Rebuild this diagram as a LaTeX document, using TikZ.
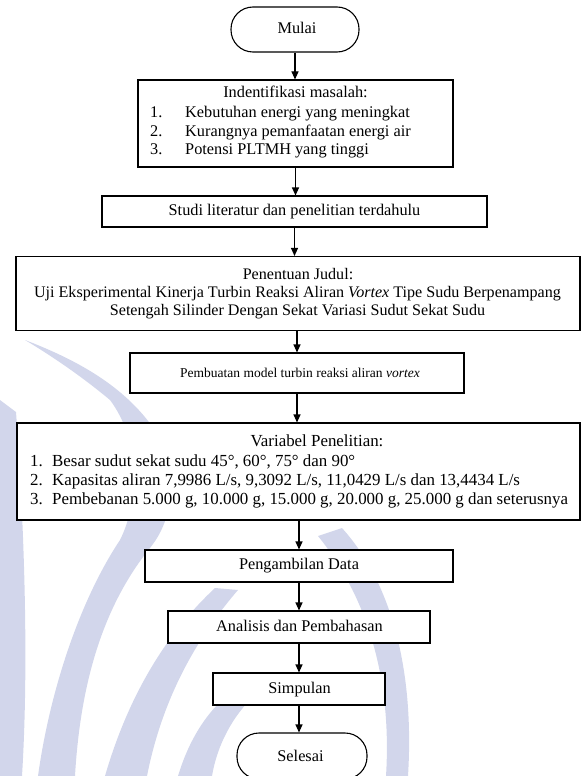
\documentclass[tikz,border=0pt]{standalone}
\usepackage{fontspec}
\setmainfont{Liberation Serif}
\usetikzlibrary{arrows.meta}
\definecolor{wm}{RGB}{210,214,235}
\begin{document}
\begin{tikzpicture}[x=1pt,y=-1pt,
  box/.style={draw, fill=white, line width=1.1pt, inner sep=0pt},
  term/.style={box, rounded corners=22pt},
  flow/.style={-{Triangle[length=8pt,width=7pt]}, line width=1.1pt},
  txt/.style={inner sep=0pt, text height=11pt, text depth=3pt, font=\fontsize{16.3}{19}\selectfont},
  ttxt/.style={txt, font=\fontsize{16.1}{19}\selectfont},
  vtxt/.style={txt, font=\fontsize{16.9}{19}\selectfont},
  stxt/.style={txt, font=\fontsize{13.5}{16}\selectfont},
  mark/.style={fill=wm, draw=none},
]
\useasboundingbox (0,0) rectangle (581,776);

% faint background watermark
\fill[wm] (0,400) -- (16,412) .. controls (26,550) and (28,680) .. (22,776) -- (0,776) -- cycle;
\fill[wm] (25,340) .. controls (90,365) and (150,400) .. (175,470)
   .. controls (170,520) and (160,535) .. (150,548)
   .. controls (100,610) and (80,690) .. (75,776) -- (38,776)
   .. controls (50,690) and (80,600) .. (120,540)
   .. controls (140,500) and (140,440) .. (110,400)
   .. controls (80,375) and (50,355) .. (25,340) -- cycle;
\fill[wm] (105,776) .. controls (130,690) and (170,630) .. (215,588) -- (238,590)
   .. controls (195,640) and (162,700) .. (147,776) -- cycle;
\fill[wm] (178,776) .. controls (192,730) and (215,702) .. (242,684) -- (256,694)
   .. controls (232,716) and (217,746) .. (212,776) -- cycle;
\fill[wm] (318,536) .. controls (368,598) and (392,680) .. (386,776) -- (408,776)
   .. controls (414,680) and (396,588) .. (342,528) -- cycle;

% boxes
\node[term, minimum width=128pt, minimum height=45pt] (mulai) at (295,29.5) {};
\node[box, minimum width=315pt, minimum height=87pt] (b1) at (295.5,123.5) {};
\node[box, minimum width=385pt, minimum height=31pt] (b2) at (294.5,211.5) {};
\node[box, minimum width=564pt, minimum height=74pt] (b3) at (298,293.5) {};
\node[box, minimum width=334pt, minimum height=40pt] (b4) at (297,373) {};
\node[box, minimum width=563pt, minimum height=97pt] (b5) at (298.5,471.5) {};
\node[box, minimum width=308pt, minimum height=32pt] (b6) at (299,566) {};
\node[box, minimum width=262pt, minimum height=32pt] (b7) at (299,627) {};
\node[box, minimum width=172pt, minimum height=32pt] (b8) at (299,689) {};
\node[term, minimum width=130pt, minimum height=46pt] (selesai) at (302,756) {};

% texts
\node[txt] (tm) at (297,29.5) {Mulai};

\node[txt] (t1h) at (295.5,93) {Indentifikasi masalah:};
\node[txt, anchor=west] (t1n1) at (150,113) {1.};
\node[txt, anchor=west] (t1n2) at (150,132) {2.};
\node[txt, anchor=west] (t1n3) at (150,150.5) {3.};
\node[txt, anchor=west] (t1a) at (185,113) {Kebutuhan energi yang meningkat};
\node[txt, anchor=west] (t1b) at (185,132) {Kurangnya pemanfaatan energi air};
\node[txt, anchor=west] (t1c) at (185,150.5) {Potensi PLTMH yang tinggi};

\node[txt] (t2) at (294.5,211.5) {Studi literatur dan penelitian terdahulu};

\node[ttxt] (t3a) at (298,275) {Penentuan Judul:};
\node[ttxt] (t3b) at (297.5,293) {Uji Eksperimental Kinerja Turbin Reaksi Aliran \textit{Vortex} Tipe Sudu Berpenampang};
\node[ttxt] (t3c) at (297.5,311) {Setengah Silinder Dengan Sekat Variasi Sudut Sekat Sudu};

\node[stxt] (t4) at (300,373) {Pembuatan model turbin reaksi aliran \textit{vortex}};

\node[vtxt] (t5h) at (317,442) {Variabel Penelitian:};
\node[vtxt, anchor=west] (t5n1) at (30,462) {1.};
\node[vtxt, anchor=west] (t5n2) at (30,481) {2.};
\node[vtxt, anchor=west] (t5n3) at (30,500) {3.};
\node[vtxt, anchor=west] (t5a) at (52,462) {Besar sudut sekat sudu 45°, 60°, 75° dan 90°};
\node[vtxt, anchor=west] (t5b) at (52,481) {Kapasitas aliran 7,9986 L/s, 9,3092 L/s, 11,0429 L/s dan 13,4434 L/s};
\node[vtxt, anchor=west] (t5c) at (52,500) {Pembebanan 5.000 g, 10.000 g, 15.000 g, 20.000 g, 25.000 g dan seterusnya};

\node[txt] (t6) at (299,565.5) {Pengambilan Data};
\node[txt] (t7) at (299.5,627) {Analisis dan Pembahasan};
\node[txt] (t8) at (299.5,689) {Simpulan};
\node[txt] (t9) at (300.5,757) {Selesai};

% arrows
\draw[flow] (mulai.south) -- (mulai.south |- b1.north);
\draw[flow] (b1.south) -- (b1.south |- b2.north);
\draw[flow] (b2.south) -- (b2.south |- b3.north);
\draw[flow] (b3.south -| b4.north) -- (b4.north);
\draw[flow] (b4.south) -- (b4.south |- b5.north);
\draw[flow] (b5.south -| b6.north) -- (b6.north);
\draw[flow] (b6.south) -- (b6.south |- b7.north);
\draw[flow] (b7.south) -- (b7.south |- b8.north);
\draw[flow] (b8.south) -- (b8.south |- selesai.north);
\end{tikzpicture}
\end{document}
